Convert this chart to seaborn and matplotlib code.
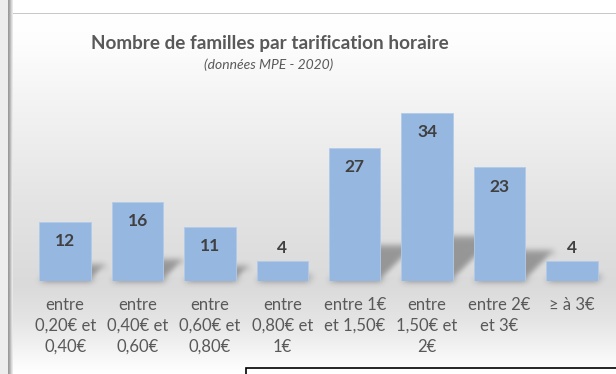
import numpy as np
import pandas as pd
import matplotlib
matplotlib.use("Agg")
import matplotlib.pyplot as plt
from matplotlib.patches import Rectangle, Polygon
import seaborn as sns

# ---- data -------------------------------------------------------------
categories = [
    "entre\n0,20€ et\n0,40€",
    "entre\n0,40€ et\n0,60€",
    "entre\n0,60€ et\n0,80€",
    "entre\n0,80€ et\n1€",
    "entre 1€\net 1,50€",
    "entre\n1,50€ et\n2€",
    "entre 2€\net 3€",
    "≥ à 3€",
]
familles = [12, 16, 11, 4, 27, 34, 23, 4]

title = "Nombre de familles par tarification horaire"
subtitle = "(données MPE - 2020)"

df = pd.DataFrame({"tranche": categories, "familles": familles})

# ---- style ------------------------------------------------------------
sns.set_theme(style="white")
plt.rcParams["font.family"] = ["Lato", "DejaVu Sans"]

W, H = 616, 374
DPI = 100
fig = plt.figure(figsize=(W / DPI, H / DPI), dpi=DPI)
fig.patch.set_facecolor("white")

# vertical background gradient of the chart area
bg = fig.add_axes([0, 0, 1, 1], zorder=-10)
ys = np.linspace(0, H, H)
stops_y = [0, 40, 110, 200, 285, 320, 365, 374]
stops_v = [1.0, 0.995, 0.95, 0.895, 0.855, 0.895, 0.985, 1.0]
col = np.interp(ys, stops_y, stops_v)
grad = np.repeat(col[:, None], 4, axis=1)
bg.imshow(np.dstack([grad, grad, grad]), extent=(0, W, H, 0), aspect="auto",
          interpolation="bilinear")
bg.set_xlim(0, W)
bg.set_ylim(H, 0)
bg.axis("off")

# window frame: top band and left edge
bg.add_patch(Rectangle((0, 0), W, 13, facecolor="white", edgecolor="none"))
bg.add_patch(Rectangle((10, 12.5), W, 1.5, facecolor="#c8c8c8", edgecolor="none"))
bg.add_patch(Rectangle((0, 0), 8, H, facecolor="#ededed", edgecolor="none"))
for i, c in enumerate(["#9a9a9a", "#a8a8a8", "#bdbdbd", "#d6d6d6", "#e8e8e8"]):
    bg.add_patch(Rectangle((8 + i, 0), 1, H, facecolor=c, edgecolor="none"))

# ---- bars ---------------------------------------------------------------
ax = fig.add_axes([29 / W, (H - 281) / H, (608 - 29) / W, 178 / H])
ax.set_facecolor("none")
bar_color = "#95b7e0"
sns.barplot(data=df, x="tranche", y="familles", color=bar_color, width=0.71,
            saturation=1, ax=ax, zorder=3)
bars = list(ax.patches)
for p in bars:
    p.set_edgecolor("#b3cbe9")
    p.set_linewidth(0.6)

ax.set_xlim(-0.5, len(categories) - 0.5)
ax.set_ylim(0, 36)


def gauss_blur(im, dpi, sigma=3.2, pad=12):
    padded = np.pad(im, ((pad, pad), (pad, pad), (0, 0)))
    r = int(3 * sigma)
    k = np.exp(-0.5 * (np.arange(-r, r + 1) / sigma) ** 2)
    k /= k.sum()
    out = np.apply_along_axis(lambda v: np.convolve(v, k, mode="same"), 0, padded)
    out = np.apply_along_axis(lambda v: np.convolve(v, k, mode="same"), 1, out)
    return out, -pad, -pad


# soft perspective shadows cast up and to the right of each bar
fig.canvas.draw()
to_px = ax.transData
for p in bars:
    x0, w, h = p.get_x(), p.get_width(), p.get_height()
    (bx, by), (tx, ty) = to_px.transform([(x0, 0), (x0, h)])
    lift_px = 0.26 * (ty - by)
    # same shift horizontally and vertically, expressed in data units
    (sx, sy) = to_px.inverted().transform([(bx + lift_px, by + lift_px)])[0]
    dx, dy = sx - x0, sy
    shadow = Polygon([(x0, 0), (x0 + w, 0), (x0 + w + dx, dy), (x0 + dx, dy)],
                     closed=True, facecolor="#505050", edgecolor="none",
                     alpha=0.5, zorder=2)
    shadow.set_agg_filter(gauss_blur)
    ax.add_patch(shadow)

# value labels
for p, v in zip(bars, familles):
    cx = p.get_x() + p.get_width() / 2
    off = -14 if v >= 8 else 9.5
    ax.annotate(f"{v}", (cx, v), xytext=(0, off), textcoords="offset points",
                ha="center", va="center", fontsize=12.5, fontweight="bold",
                color="#404040", zorder=5)

ax.set_xlabel("")
ax.set_ylabel("")
ax.set_yticks([])
ax.tick_params(axis="x", length=0, pad=11.5, labelsize=12, labelcolor="#595959")
for lbl in ax.get_xticklabels():
    lbl.set_linespacing(1.38)
    lbl.set_verticalalignment("top")
sns.despine(ax=ax, left=True, bottom=True, top=True, right=True)

# ---- titles -------------------------------------------------------------
fig.text(270 / W, 1 - 43 / H, title, ha="center", va="center", fontsize=13.6,
         fontweight="bold", color="#595959")
fig.text(269 / W, 1 - 65 / H, subtitle, ha="center", va="center", fontsize=10,
         fontstyle="italic", color="#595959")

# framed box at the bottom
bg.add_patch(Rectangle((246, 368), 400, 20, facecolor="white", edgecolor="black",
                       linewidth=1.2, zorder=20))

fig.savefig("out.png", dpi=DPI)
